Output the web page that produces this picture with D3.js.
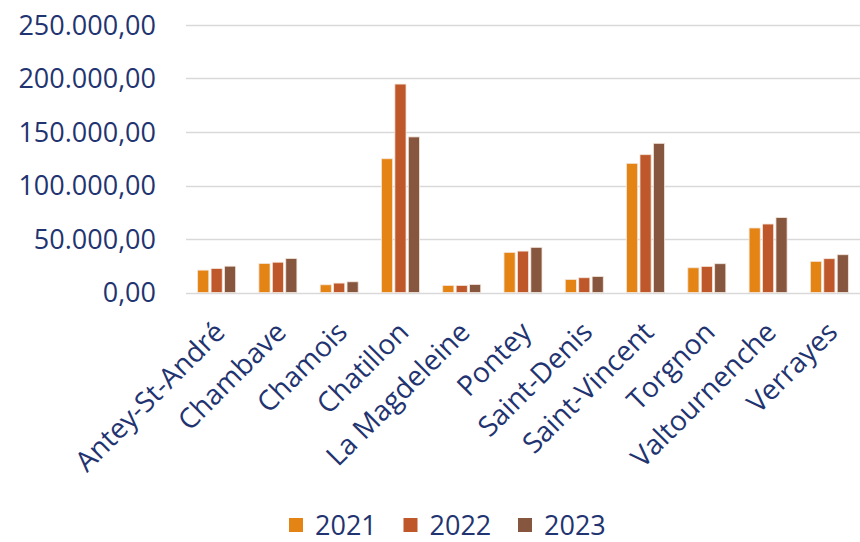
<!DOCTYPE html>
<html>
<head>
<meta charset="utf-8">
<script src="https://cdn.jsdelivr.net/npm/d3@7"></script>
<style>
  body { margin: 0; background: #fff; }
  text { font-family: "Open Sans", sans-serif; fill: #1F3470; }
</style>
</head>
<body>
<div id="chart"></div>
<script>
// Data
const comuni = ["Antey-St-André", "Chambave", "Chamois", "Chatillon", "La Magdeleine",
  "Pontey", "Saint-Denis", "Saint-Vincent", "Torgnon", "Valtournenche", "Verrayes"];
const years = ["2021", "2022", "2023"];
const values2021 = [20900, 27100, 7200, 125000, 6600, 37500, 12200, 120700, 23100, 60300, 29100];
const values2022 = [22400, 28300, 8800, 194800, 6600, 38700, 13800, 128800, 24400, 64000, 31600];
const values2023 = [24600, 31800, 10000, 145400, 7500, 42200, 15000, 139400, 26900, 70000, 35300];
const yTicks = [0, 50000, 100000, 150000, 200000, 250000];
const colors = ["#E48414", "#BE582B", "#86563F"];

const width = 860, height = 542;
const margin = { top: 25, right: 0, bottom: 250, left: 186 };

const series = [values2021, values2022, values2023];

const svg = d3.select("#chart").append("svg")
    .attr("width", width)
    .attr("height", height);

const x0 = d3.scaleBand()
    .domain(comuni)
    .range([margin.left, width - margin.right])
    .paddingInner(0.38)
    .paddingOuter(0.19);

const x1 = d3.scaleBand()
    .domain(years)
    .range([0, x0.bandwidth()])
    .paddingInner(0.17);

const y = d3.scaleLinear()
    .domain([0, 250000])
    .range([height - margin.bottom + 0.5, margin.top]);

// gridlines
svg.append("g")
  .selectAll("line")
  .data(yTicks)
  .join("line")
    .attr("x1", margin.left)
    .attr("x2", width - margin.right)
    .attr("y1", d => Math.round(y(d)) + 0.5)
    .attr("y2", d => Math.round(y(d)) + 0.5)
    .attr("stroke", "#d9d9d9")
    .attr("stroke-width", 1.3);

// y tick labels
const fmt = d => d3.format(",.2f")(d).replace(/,/g, "#").replace(".", ",").replace(/#/g, ".");
svg.append("g")
  .selectAll("text")
  .data(yTicks)
  .join("text")
    .attr("x", 156)
    .attr("y", d => y(d))
    .attr("dy", "0.36em")
    .attr("text-anchor", "end")
    .style("font-size", "27px")
    .text(fmt);

// bars
const groups = svg.append("g")
  .selectAll("g")
  .data(comuni)
  .join("g")
    .attr("transform", d => `translate(${x0(d)},0)`);

groups.selectAll("rect")
  .data((d, i) => years.map((yr, j) => ({ yr, v: series[j][i], c: colors[j] })))
  .join("rect")
    .attr("x", d => x1(d.yr))
    .attr("y", d => y(d.v))
    .attr("width", x1.bandwidth())
    .attr("height", d => y(0) - y(d.v))
    .attr("fill", d => d.c)
    .attr("stroke", "#f4e6dc")
    .attr("stroke-width", 0.8);

// x labels
svg.append("g")
  .selectAll("text")
  .data(comuni)
  .join("text")
    .attr("transform", d => `translate(${x0(d) + x0.bandwidth() / 2 - 4},${height - margin.bottom + 28}) rotate(-45)`)
    .attr("text-anchor", "end")
    .attr("dy", "0.7em")
    .style("font-size", "28px")
    .text(d => d);

// legend
const legend = svg.append("g")
  .attr("transform", "translate(289,512)");

const item = legend.selectAll("g")
  .data(years)
  .join("g")
    .attr("transform", (d, i) => `translate(${i * 114.5},0)`);

item.append("rect")
    .attr("width", 14)
    .attr("height", 14)
    .attr("y", 6)
    .attr("fill", (d, i) => colors[i]);

item.append("text")
    .attr("x", 26)
    .attr("y", 13)
    .attr("dy", "0.36em")
    .style("font-size", "27px")
    .text(d => d);
</script>
</body>
</html>
